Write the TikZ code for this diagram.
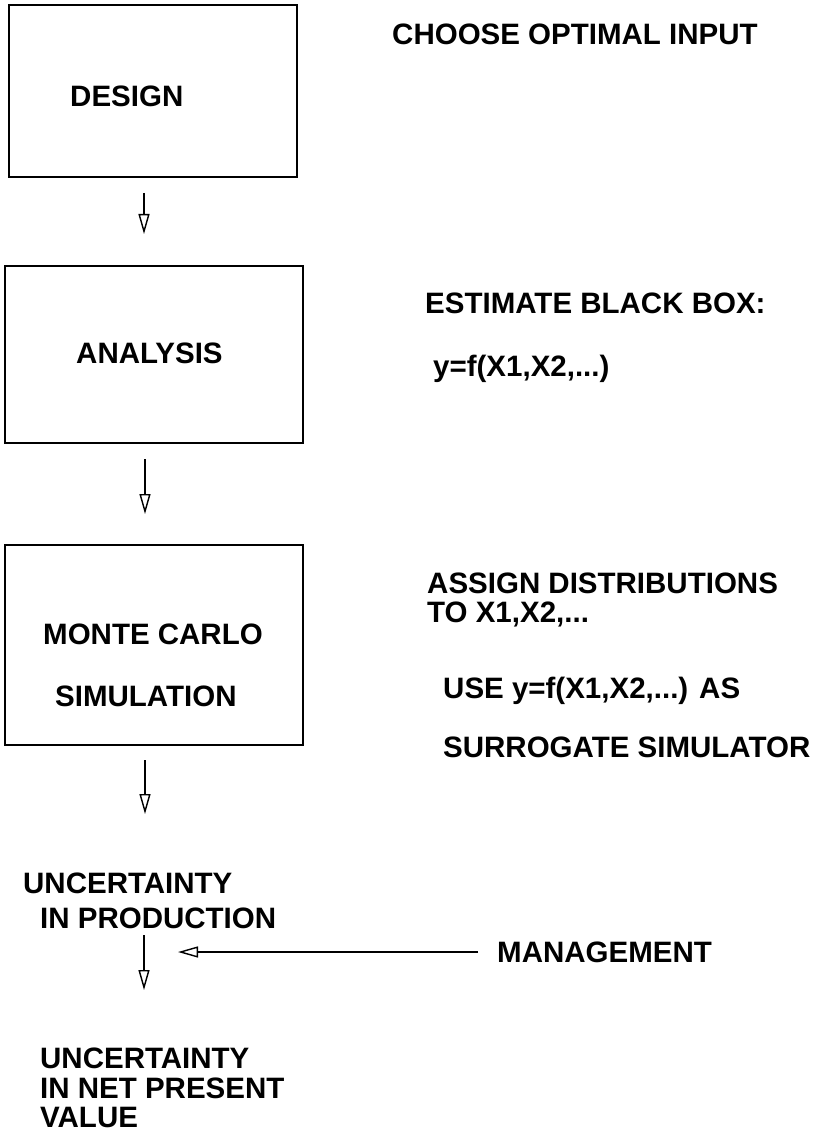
\documentclass[tikz,border=0pt]{standalone}
\usepackage{fontspec}
\setmainfont{Liberation Sans}
\usetikzlibrary{arrows.meta}
\tikzset{
  box/.style={draw, line width=2pt, rectangle, inner sep=0pt},
  lbl/.style={anchor=base west, inner sep=0pt, font=\fontsize{29.5}{30}\selectfont\bfseries},
  arr/.style={line width=1.7pt, -{Triangle[open, length=20pt, width=11pt, line width=1.4pt]}}
}
\begin{document}
\begin{tikzpicture}[x=1pt,y=-1pt]
\useasboundingbox (0,0) rectangle (818,1131);
% boxes
\node[box, minimum width=288pt, minimum height=172pt] (design) at (153,91) {};
\node[box, minimum width=298pt, minimum height=177pt] (analysis) at (154,354.5) {};
\node[box, minimum width=298pt, minimum height=200pt] (mc) at (154,645) {};
% box texts
\node[lbl] (tdesign) at (70,107) {DESIGN};
\node[lbl] (tanalysis) at (76,363) {ANALYSIS};
\node[lbl] (tmc1) at (43,644) {MONTE CARLO};
\node[lbl] (tmc2) at (55,706) {SIMULATION};
% right texts
\node[lbl] (choose) at (392,45) {CHOOSE OPTIMAL INPUT};
\node[lbl] (estimate) at (425,313) {ESTIMATE BLACK BOX:};
\node[lbl] (yf) at (433,376) {y=f(X1,X2,...)};
\node[lbl] (assign1) at (427,593) {ASSIGN DISTRIBUTIONS};
\node[lbl] (assign2) at (427,622) {TO X1,X2,...};
\node[lbl] (use) at (443,698) {USE y=f(X1,X2,...) AS};
\node[lbl] (surr) at (443,757) {SURROGATE SIMULATOR};
% lower texts
\node[lbl] (unc1) at (23,893) {UNCERTAINTY};
\node[lbl] (unc2) at (40,928) {IN PRODUCTION};
\node[lbl] (npv1) at (40,1068) {UNCERTAINTY};
\node[lbl] (npv2) at (40,1098) {IN NET PRESENT};
\node[lbl] (npv3) at (40,1127) {VALUE};
\node[lbl] (mgmt) at (497,962) {MANAGEMENT};
% arrow ends
\coordinate (a1s) at (144,193);
\coordinate (a1e) at (144,234);
\coordinate (a2s) at (145,459);
\coordinate (a2e) at (145,514);
\coordinate (a3s) at (145,760);
\coordinate (a3e) at (145,814);
\coordinate (a4s) at (144,935);
\coordinate (a4e) at (144,990);
\coordinate (m1) at (478,952);
\coordinate (m2) at (178,952);
\draw[arr] (a1s) -- (a1e);
\draw[arr] (a2s) -- (a2e);
\draw[arr] (a3s) -- (a3e);
\draw[arr] (a4s) -- (a4e);
\draw[arr] (m1) -- (m2);
\end{tikzpicture}
\end{document}
